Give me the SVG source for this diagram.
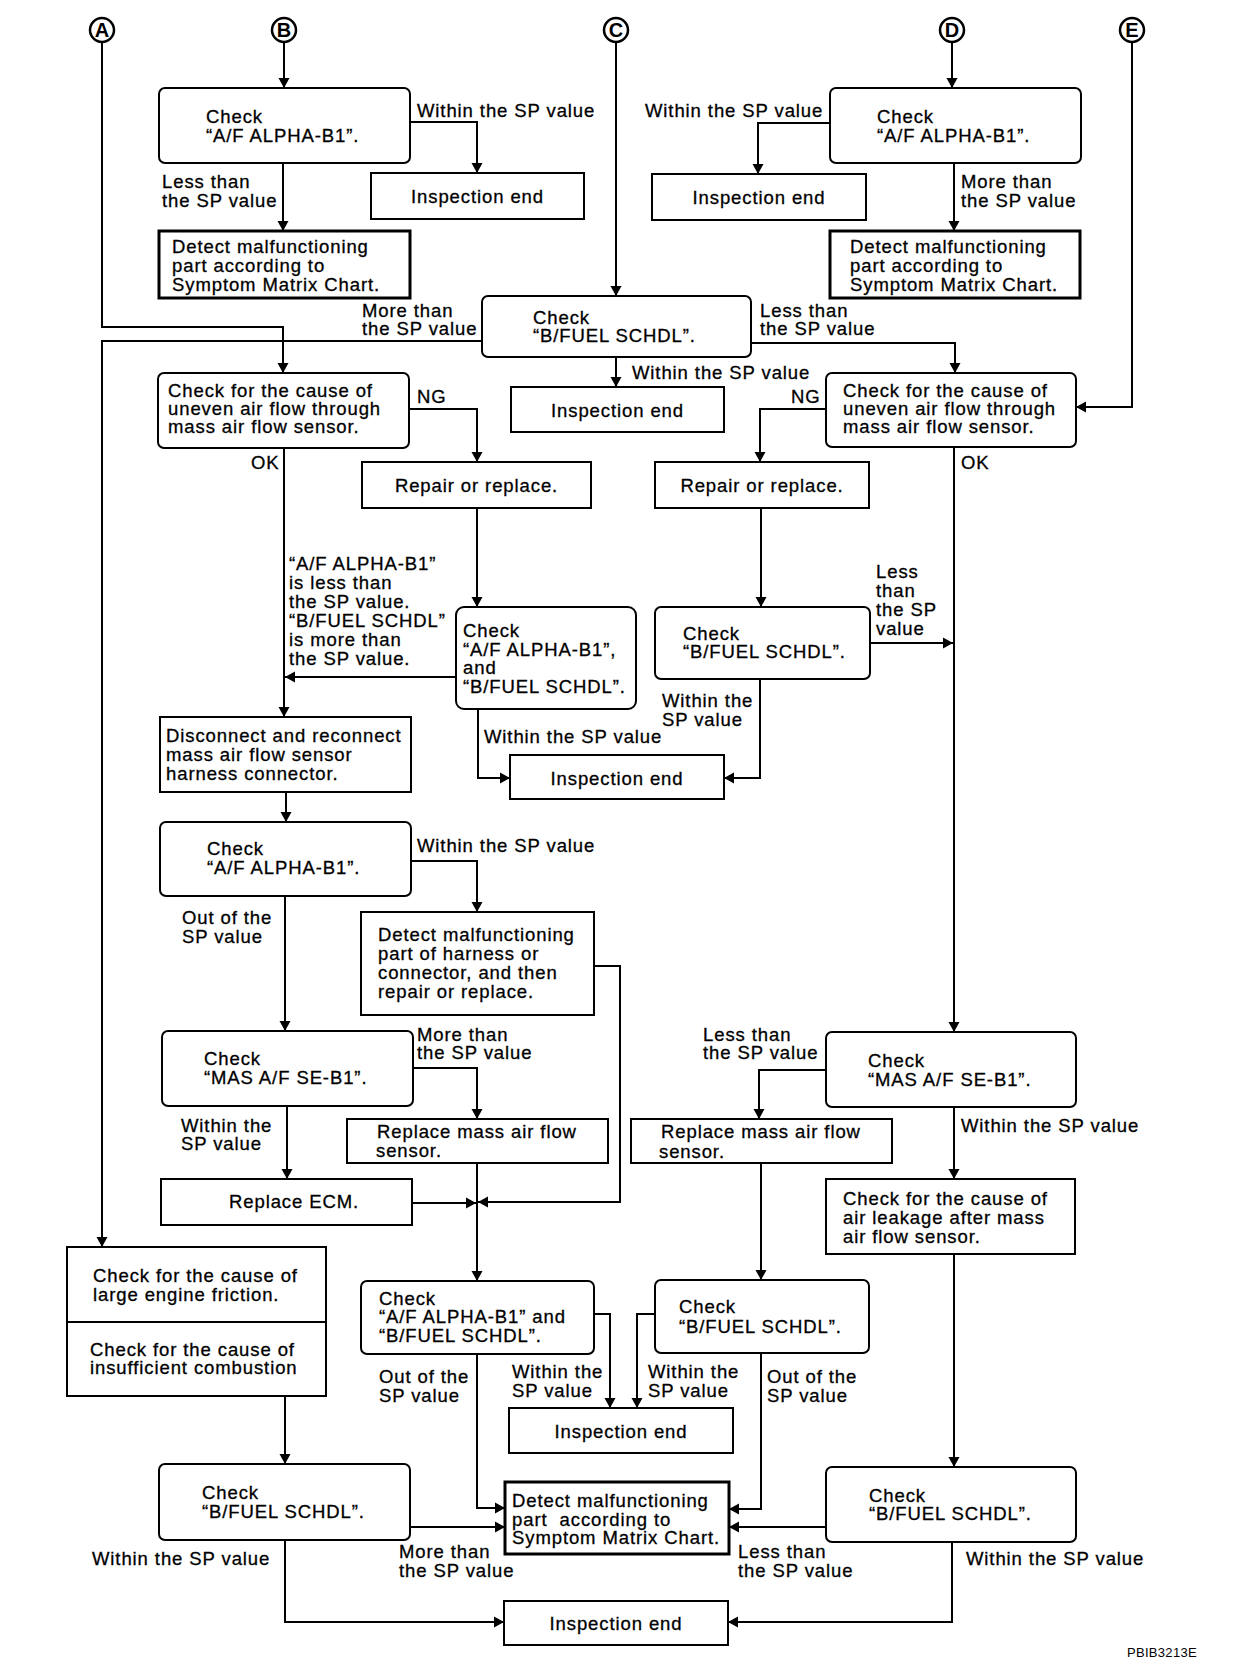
<svg xmlns="http://www.w3.org/2000/svg" width="1248" height="1666" viewBox="0 0 1248 1666">
<style>
.bx{fill:#fff;stroke:#000;stroke-width:2}
.tk{stroke-width:3}
.t{font-family:"Liberation Sans",Arial,sans-serif;font-size:18.5px;letter-spacing:0.9px;fill:#000;stroke:#000;stroke-width:0.3}
.m{text-anchor:middle}
.c{fill:none;stroke:#000;stroke-width:2;marker-end:url(#ah)}
.cir{fill:#fff;stroke:#000;stroke-width:2.5}
.ct{font-family:"Liberation Sans",Arial,sans-serif;font-size:20px;font-weight:bold;text-anchor:middle}
</style>
<defs>
<marker id="ah" markerUnits="userSpaceOnUse" markerWidth="12" markerHeight="12" refX="10" refY="6" orient="auto" viewBox="0 0 12 12">
<path d="M0,0.5 L10,6 L0,11.5 z" fill="#000"/>
</marker>
</defs>
<rect width="1248" height="1666" fill="#fff"/>

<g id="connectors">
<path class="c" d="M284 42 V88"/>
<path class="c" d="M952 42 V88"/>
<path class="c" d="M410 122 H477 V173"/>
<path class="c" d="M283 163 V231"/>
<path class="c" d="M830 123 H758 V174"/>
<path class="c" d="M954 163 V231"/>
<path class="c" d="M616 42 V296"/>
<path class="c" d="M102 42 V327 H283 V373"/>
<path class="c" d="M482 341 H102 V1247"/>
<path class="c" d="M751 343 H955 V373"/>
<path class="c" d="M616 357 V387"/>
<path class="c" d="M1132 42 V407 H1076"/>
<path class="c" d="M409 409 H477 V462"/>
<path class="c" d="M826 409 H760 V462"/>
<path class="c" d="M284 448 V717"/>
<path class="c" d="M954 447 V1032"/>
<path class="c" d="M477 508 V607"/>
<path class="c" d="M761 508 V607"/>
<path class="c" d="M456 677 H285"/>
<path class="c" d="M478 709 V778 H510"/>
<path class="c" d="M760 679 V778 H724"/>
<path class="c" d="M870 643 H953"/>
<path class="c" d="M286 792 V822"/>
<path class="c" d="M411 861 H477 V912"/>
<path class="c" d="M285 896 V1031" stroke-width="3"/>
<path class="c" d="M594 966 H620 V1202 H478"/>
<path class="c" d="M413 1068 H477 V1119"/>
<path class="c" d="M287 1106 V1179"/>
<path class="c" d="M412 1203 H476"/>
<path class="c" d="M477 1163 V1281"/>
<path class="c" d="M826 1070 H759 V1119"/>
<path class="c" d="M954 1107 V1179"/>
<path class="c" d="M761 1163 V1280"/>
<path class="c" d="M954 1254 V1467" stroke-width="3"/>
<path class="c" d="M285 1396 V1464"/>
<path class="c" d="M594 1314 H610 V1408"/>
<path class="c" d="M477 1354 V1508 H505"/>
<path class="c" d="M655 1314 H637 V1408"/>
<path class="c" d="M761 1353 V1509 H729"/>
<path class="c" d="M410 1527 H505"/>
<path class="c" d="M826 1527 H729"/>
<path class="c" d="M285 1540 V1622 H504"/>
<path class="c" d="M952 1542 V1622 H728"/>
</g>

<g id="connector-labels" class="t">
<text x="417" y="117">Within the SP value</text>
<text x="162" y="188">Less than</text><text x="162" y="207">the SP value</text>
<text x="645" y="117">Within the SP value</text>
<text x="961" y="188">More than</text><text x="961" y="207">the SP value</text>
<text x="362" y="317">More than</text><text x="362" y="335">the SP value</text>
<text x="760" y="317">Less than</text><text x="760" y="335">the SP value</text>
<text x="632" y="379">Within the SP value</text>
<text x="417" y="403">NG</text>
<text x="791" y="403">NG</text>
<text x="251" y="469">OK</text>
<text x="961" y="469">OK</text>
<text x="289" y="570">“A/F ALPHA-B1”</text>
<text x="289" y="589">is less than</text>
<text x="289" y="608">the SP value.</text>
<text x="289" y="627">“B/FUEL SCHDL”</text>
<text x="289" y="646">is more than</text>
<text x="289" y="665">the SP value.</text>
<text x="876" y="578">Less</text><text x="876" y="597">than</text><text x="876" y="616">the SP</text><text x="876" y="635">value</text>
<text x="484" y="743">Within the SP value</text>
<text x="662" y="707">Within the</text><text x="662" y="726">SP value</text>
<text x="417" y="852">Within the SP value</text>
<text x="182" y="924">Out of the</text><text x="182" y="943">SP value</text>
<text x="417" y="1041">More than</text><text x="417" y="1059">the SP value</text>
<text x="703" y="1041">Less than</text><text x="703" y="1059">the SP value</text>
<text x="961" y="1132">Within the SP value</text>
<text x="181" y="1132">Within the</text><text x="181" y="1150">SP value</text>
<text x="379" y="1383">Out of the</text><text x="379" y="1402">SP value</text>
<text x="512" y="1378">Within the</text><text x="512" y="1397">SP value</text>
<text x="648" y="1378">Within the</text><text x="648" y="1397">SP value</text>
<text x="767" y="1383">Out of the</text><text x="767" y="1402">SP value</text>
<text x="92" y="1565">Within the SP value</text>
<text x="399" y="1558">More than</text><text x="399" y="1577">the SP value</text>
<text x="738" y="1558">Less than</text><text x="738" y="1577">the SP value</text>
<text x="966" y="1565">Within the SP value</text>
</g>

<g id="circleA"><circle class="cir" cx="102" cy="30" r="12"/><text class="ct" x="102" y="37">A</text></g>
<g id="circleB"><circle class="cir" cx="284" cy="30" r="12"/><text class="ct" x="284" y="37">B</text></g>
<g id="circleC"><circle class="cir" cx="616" cy="30" r="12"/><text class="ct" x="616" y="37">C</text></g>
<g id="circleD"><circle class="cir" cx="952" cy="30" r="12"/><text class="ct" x="952" y="37">D</text></g>
<g id="circleE"><circle class="cir" cx="1132" cy="30" r="12"/><text class="ct" x="1132" y="37">E</text></g>

<g id="n1"><rect class="bx" x="159" y="88" width="251" height="75" rx="6"/><text class="t" x="206" y="123">Check</text><text class="t" x="206" y="142">“A/F ALPHA-B1”.</text></g>
<g id="n2"><rect class="bx" x="371" y="173" width="213" height="46"/><text class="t m" x="477.5" y="203">Inspection end</text></g>
<g id="n3"><rect class="bx tk" x="159" y="231" width="251" height="67"/><text class="t" x="172" y="253">Detect malfunctioning</text><text class="t" x="172" y="272">part according to</text><text class="t" x="172" y="291">Symptom Matrix Chart.</text></g>
<g id="n4"><rect class="bx" x="830" y="88" width="251" height="75" rx="6"/><text class="t" x="877" y="123">Check</text><text class="t" x="877" y="142">“A/F ALPHA-B1”.</text></g>
<g id="n5"><rect class="bx" x="652" y="174" width="214" height="46"/><text class="t m" x="759" y="204">Inspection end</text></g>
<g id="n6"><rect class="bx tk" x="830" y="231" width="250" height="67"/><text class="t" x="850" y="253">Detect malfunctioning</text><text class="t" x="850" y="272">part according to</text><text class="t" x="850" y="291">Symptom Matrix Chart.</text></g>
<g id="n7"><rect class="bx" x="482" y="296" width="269" height="61" rx="6"/><text class="t" x="533" y="324">Check</text><text class="t" x="533" y="342">“B/FUEL SCHDL”.</text></g>
<g id="n8"><rect class="bx" x="511" y="387" width="213" height="45"/><text class="t m" x="617.5" y="417">Inspection end</text></g>
<g id="n9"><rect class="bx" x="158" y="373" width="251" height="75" rx="6"/><text class="t" x="168" y="397">Check for the cause of</text><text class="t" x="168" y="415">uneven air flow through</text><text class="t" x="168" y="433">mass air flow sensor.</text></g>
<g id="n10"><rect class="bx" x="826" y="373" width="250" height="74" rx="6"/><text class="t" x="843" y="397">Check for the cause of</text><text class="t" x="843" y="415">uneven air flow through</text><text class="t" x="843" y="433">mass air flow sensor.</text></g>
<g id="n11"><rect class="bx" x="362" y="462" width="229" height="46"/><text class="t m" x="476.5" y="492">Repair or replace.</text></g>
<g id="n12"><rect class="bx" x="655" y="462" width="214" height="46"/><text class="t m" x="762" y="492">Repair or replace.</text></g>
<g id="n13"><rect class="bx" x="456" y="607" width="180" height="102" rx="8"/><text class="t" x="463" y="637">Check</text><text class="t" x="463" y="656">“A/F ALPHA-B1”,</text><text class="t" x="463" y="674">and</text><text class="t" x="463" y="693">“B/FUEL SCHDL”.</text></g>
<g id="n14"><rect class="bx" x="655" y="607" width="215" height="72" rx="6"/><text class="t" x="683" y="640">Check</text><text class="t" x="683" y="658">“B/FUEL SCHDL”.</text></g>
<g id="n15"><rect class="bx" x="510" y="755" width="214" height="44"/><text class="t m" x="617" y="785">Inspection end</text></g>
<g id="n16"><rect class="bx" x="160" y="717" width="251" height="75"/><text class="t" x="166" y="742">Disconnect and reconnect</text><text class="t" x="166" y="761">mass air flow sensor</text><text class="t" x="166" y="780">harness connector.</text></g>
<g id="n17"><rect class="bx" x="160" y="822" width="251" height="74" rx="6"/><text class="t" x="207" y="855">Check</text><text class="t" x="207" y="874">“A/F ALPHA-B1”.</text></g>
<g id="n18"><rect class="bx" x="361" y="912" width="233" height="103"/><text class="t" x="378" y="941">Detect malfunctioning</text><text class="t" x="378" y="960">part of harness or</text><text class="t" x="378" y="979">connector, and then</text><text class="t" x="378" y="998">repair or replace.</text></g>
<g id="n19"><rect class="bx" x="162" y="1031" width="251" height="75" rx="6"/><text class="t" x="204" y="1065">Check</text><text class="t" x="204" y="1084">“MAS A/F SE-B1”.</text></g>
<g id="n20"><rect class="bx" x="347" y="1119" width="261" height="44"/><text class="t" x="377" y="1138">Replace mass air flow</text><text class="t" x="376" y="1157">sensor.</text></g>
<g id="n21"><rect class="bx" x="161" y="1179" width="251" height="46"/><text class="t" x="229" y="1208">Replace ECM.</text></g>
<g id="n22"><rect class="bx" x="826" y="1032" width="250" height="75" rx="6"/><text class="t" x="868" y="1067">Check</text><text class="t" x="868" y="1086">“MAS A/F SE-B1”.</text></g>
<g id="n23"><rect class="bx" x="631" y="1119" width="261" height="44"/><text class="t" x="661" y="1138">Replace mass air flow</text><text class="t" x="659" y="1158">sensor.</text></g>
<g id="n24"><rect class="bx" x="826" y="1179" width="249" height="75"/><text class="t" x="843" y="1205">Check for the cause of</text><text class="t" x="843" y="1224">air leakage after mass</text><text class="t" x="843" y="1243">air flow sensor.</text></g>
<g id="n25"><rect class="bx" x="67" y="1247" width="259" height="149"/><line x1="67" y1="1322" x2="326" y2="1322" stroke="#000" stroke-width="2"/><text class="t" x="93" y="1282">Check for the cause of</text><text class="t" x="93" y="1301">large engine friction.</text><text class="t" x="90" y="1356">Check for the cause of</text><text class="t" x="90" y="1374">insufficient combustion</text></g>
<g id="n26"><rect class="bx" x="361" y="1281" width="233" height="73" rx="6"/><text class="t" x="379" y="1305">Check</text><text class="t" x="379" y="1323">“A/F ALPHA-B1” and</text><text class="t" x="379" y="1342">“B/FUEL SCHDL”.</text></g>
<g id="n27"><rect class="bx" x="655" y="1280" width="214" height="73" rx="6"/><text class="t" x="679" y="1313">Check</text><text class="t" x="679" y="1333">“B/FUEL SCHDL”.</text></g>
<g id="n28"><rect class="bx" x="509" y="1408" width="224" height="45"/><text class="t m" x="621" y="1438">Inspection end</text></g>
<g id="n29"><rect class="bx tk" x="505" y="1482" width="224" height="72"/><text class="t" x="512" y="1507">Detect malfunctioning</text><text class="t" x="512" y="1526" xml:space="preserve">part  according to</text><text class="t" x="512" y="1544">Symptom Matrix Chart.</text></g>
<g id="n30"><rect class="bx" x="159" y="1464" width="251" height="76" rx="6"/><text class="t" x="202" y="1499">Check</text><text class="t" x="202" y="1518">“B/FUEL SCHDL”.</text></g>
<g id="n31"><rect class="bx" x="826" y="1467" width="250" height="75" rx="6"/><text class="t" x="869" y="1502">Check</text><text class="t" x="869" y="1520">“B/FUEL SCHDL”.</text></g>
<g id="n32"><rect class="bx" x="504" y="1601" width="224" height="44"/><text class="t m" x="616" y="1630">Inspection end</text></g>
<text x="1127" y="1657" font-family="Liberation Sans, Arial, sans-serif" font-size="13" letter-spacing="0.3">PBIB3213E</text>
</svg>
